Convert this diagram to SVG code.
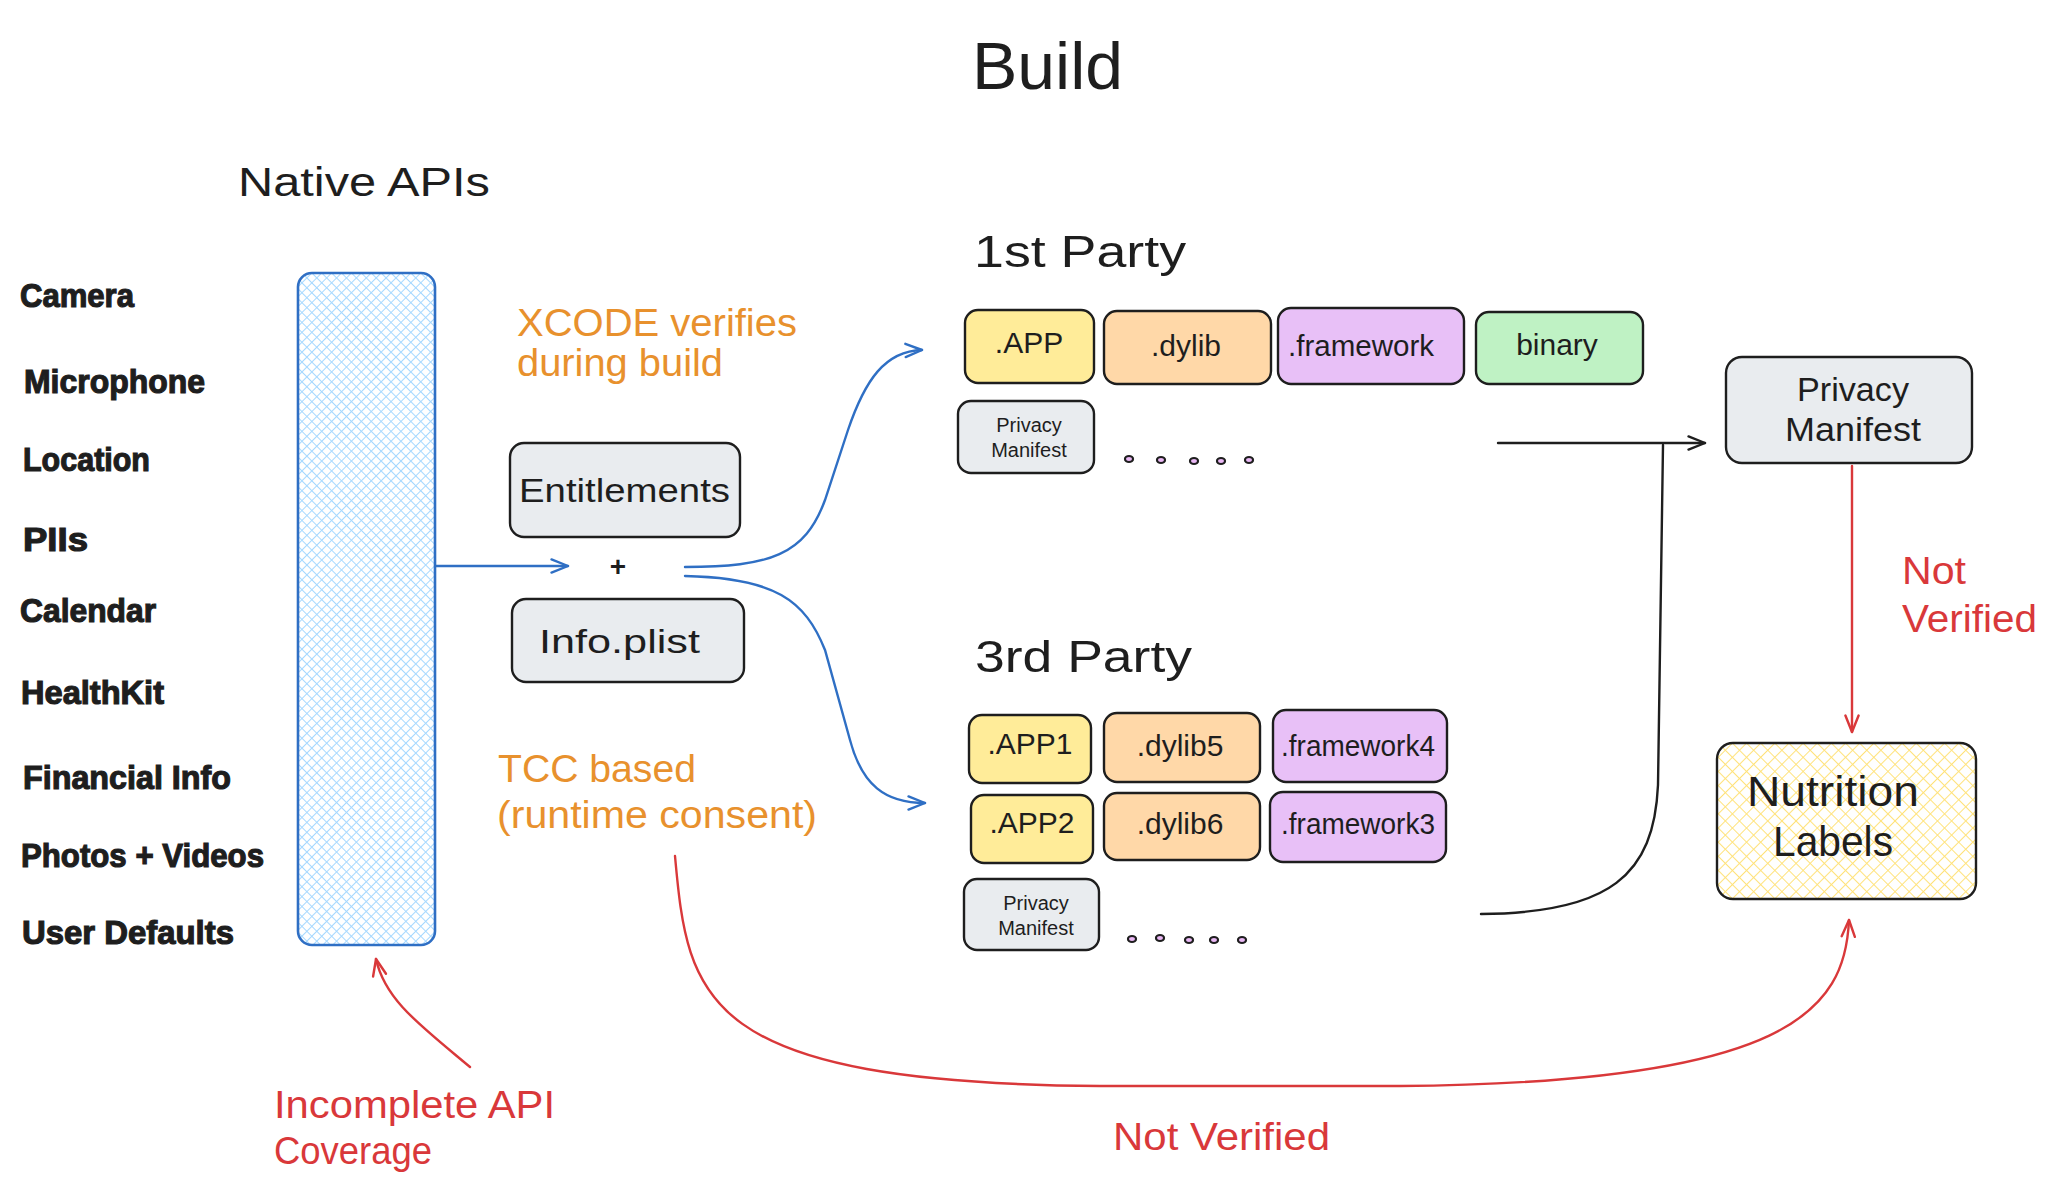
<svg xmlns="http://www.w3.org/2000/svg" width="2060" height="1192" viewBox="0 0 2060 1192">
<style>
.hw{font-family:"Liberation Sans","Noto Sans",sans-serif;fill:#1e1e1e}
.bold{font-family:"Liberation Sans","Noto Sans",sans-serif;font-weight:bold;fill:#1e1e1e;stroke:#1e1e1e;stroke-width:1.2;font-size:34px}
.or{fill:#e8912d}
.rd{fill:#d9383a}
.box{stroke:#1e1e1e;stroke-width:2.4}
.gray{fill:#e9ecef}
.yel{fill:#ffec99}
.ora{fill:#ffd8a8}
.pur{fill:#e8c0f7}
.grn{fill:#bff2c4}
.mid{text-anchor:middle}
.con{fill:none;stroke-width:2.4;stroke-linecap:round}
.dot{fill:#eab8f5;stroke:#1e1e1e;stroke-width:2.2}
</style>
<defs>
<pattern id="hb" width="7" height="7" patternUnits="userSpaceOnUse" patternTransform="rotate(45)">
<path d="M0,0 H7 M0,0 V7" stroke="#a5d8ff" stroke-width="2"/>
</pattern>
<pattern id="hy" width="10" height="10" patternUnits="userSpaceOnUse" patternTransform="rotate(45)">
<path d="M0,0 H10 M0,0 V10" stroke="#ffe27a" stroke-width="2"/>
</pattern>
<marker id="mb" viewBox="0 0 20 20" refX="18" refY="10" markerWidth="22" markerHeight="22" markerUnits="userSpaceOnUse" orient="auto">
<path d="M3,4 L18,10 L3,16" fill="none" stroke="#2f6fc4" stroke-width="2.2" stroke-linecap="round" stroke-linejoin="round"/>
</marker>
<marker id="mk" viewBox="0 0 20 20" refX="18" refY="10" markerWidth="22" markerHeight="22" markerUnits="userSpaceOnUse" orient="auto">
<path d="M3,4 L18,10 L3,16" fill="none" stroke="#1e1e1e" stroke-width="2.2" stroke-linecap="round" stroke-linejoin="round"/>
</marker>
<marker id="mr" viewBox="0 0 20 20" refX="18" refY="10" markerWidth="22" markerHeight="22" markerUnits="userSpaceOnUse" orient="auto">
<path d="M3,4 L18,10 L3,16" fill="none" stroke="#d9383a" stroke-width="2.2" stroke-linecap="round" stroke-linejoin="round"/>
</marker>
</defs>
<rect width="2060" height="1192" fill="#ffffff"/>

<g id="title">
<text class="hw" x="972" y="89" font-size="66" textLength="151" lengthAdjust="spacingAndGlyphs">Build</text>
</g>

<g id="native-apis-label">
<text class="hw" x="238" y="196" font-size="40" textLength="252" lengthAdjust="spacingAndGlyphs">Native APIs</text>
</g>

<g id="api-list">
<text class="bold" x="20" y="307" textLength="114" lengthAdjust="spacingAndGlyphs">Camera</text>
<text class="bold" x="24" y="393" textLength="181" lengthAdjust="spacingAndGlyphs">Microphone</text>
<text class="bold" x="23" y="471" textLength="127" lengthAdjust="spacingAndGlyphs">Location</text>
<text class="bold" x="23" y="551" textLength="65" lengthAdjust="spacingAndGlyphs">PIIs</text>
<text class="bold" x="20" y="622" textLength="136" lengthAdjust="spacingAndGlyphs">Calendar</text>
<text class="bold" x="21" y="704" textLength="143" lengthAdjust="spacingAndGlyphs">HealthKit</text>
<text class="bold" x="23" y="789" textLength="208" lengthAdjust="spacingAndGlyphs">Financial Info</text>
<text class="bold" x="21" y="867" textLength="243" lengthAdjust="spacingAndGlyphs">Photos + Videos</text>
<text class="bold" x="22" y="944" textLength="212" lengthAdjust="spacingAndGlyphs">User Defaults</text>
</g>

<g id="native-apis-box">
<rect x="298" y="273" width="137" height="672" rx="14" fill="#ffffff"/>
<rect x="298" y="273" width="137" height="672" rx="14" fill="url(#hb)" stroke="#2f6fc4" stroke-width="2.6"/>
</g>

<g id="xcode-note">
<text class="hw or" x="517" y="336" font-size="38" textLength="280" lengthAdjust="spacingAndGlyphs">XCODE verifies</text>
<text class="hw or" x="517" y="376" font-size="38" textLength="206" lengthAdjust="spacingAndGlyphs">during build</text>
</g>

<g id="entitlements">
<rect class="box gray" x="510" y="443" width="230" height="94" rx="14"/>
<text class="hw" x="519" y="502" font-size="33" textLength="211" lengthAdjust="spacingAndGlyphs">Entitlements</text>
</g>

<g id="plus">
<text class="hw mid" x="618" y="576" font-size="28" font-weight="bold">+</text>
</g>

<g id="info-plist">
<rect class="box gray" x="512" y="599" width="232" height="83" rx="14"/>
<text class="hw" x="539" y="653" font-size="33" textLength="161" lengthAdjust="spacingAndGlyphs">Info.plist</text>
</g>

<g id="tcc-note">
<text class="hw or" x="498" y="782" font-size="38" textLength="198" lengthAdjust="spacingAndGlyphs">TCC based</text>
<text class="hw or" x="497" y="828" font-size="38" textLength="320" lengthAdjust="spacingAndGlyphs">(runtime consent)</text>
</g>

<g id="first-party">
<text class="hw" x="974" y="267" font-size="44" textLength="212" lengthAdjust="spacingAndGlyphs">1st Party</text>
<g id="fp-app"><rect class="box yel" x="965" y="310" width="129" height="73" rx="13"/><text class="hw mid" x="1029" y="353" font-size="30">.APP</text></g>
<g id="fp-dylib"><rect class="box ora" x="1104" y="311" width="167" height="73" rx="13"/><text class="hw mid" x="1186" y="356" font-size="30">.dylib</text></g>
<g id="fp-framework"><rect class="box pur" x="1278" y="308" width="186" height="76" rx="13"/><text class="hw mid" x="1361" y="356" font-size="30" textLength="146" lengthAdjust="spacingAndGlyphs">.framework</text></g>
<g id="fp-binary"><rect class="box grn" x="1476" y="312" width="167" height="72" rx="13"/><text class="hw mid" x="1557" y="355" font-size="30">binary</text></g>
<g id="fp-privacy"><rect class="box gray" x="958" y="401" width="136" height="72" rx="13"/>
<text class="hw mid" x="1029" y="432" font-size="20">Privacy</text><text class="hw mid" x="1029" y="457" font-size="20">Manifest</text></g>
<g id="fp-dots">
<ellipse class="dot" cx="1129" cy="459" rx="4" ry="3"/>
<ellipse class="dot" cx="1161" cy="460" rx="4" ry="3"/>
<ellipse class="dot" cx="1194" cy="461" rx="4" ry="3"/>
<ellipse class="dot" cx="1221" cy="461" rx="4" ry="3"/>
<ellipse class="dot" cx="1249" cy="460" rx="4" ry="3"/>
</g>
</g>

<g id="third-party">
<text class="hw" x="975" y="672" font-size="44" textLength="217" lengthAdjust="spacingAndGlyphs">3rd Party</text>
<g id="tp-app1"><rect class="box yel" x="969" y="715" width="122" height="68" rx="13"/><text class="hw mid" x="1030" y="754" font-size="30">.APP1</text></g>
<g id="tp-dylib5"><rect class="box ora" x="1104" y="713" width="156" height="69" rx="13"/><text class="hw mid" x="1180" y="756" font-size="30">.dylib5</text></g>
<g id="tp-framework4"><rect class="box pur" x="1273" y="710" width="174" height="72" rx="13"/><text class="hw mid" x="1358" y="756" font-size="30" textLength="154" lengthAdjust="spacingAndGlyphs">.framework4</text></g>
<g id="tp-app2"><rect class="box yel" x="971" y="795" width="122" height="68" rx="13"/><text class="hw mid" x="1032" y="833" font-size="30">.APP2</text></g>
<g id="tp-dylib6"><rect class="box ora" x="1104" y="793" width="156" height="67" rx="13"/><text class="hw mid" x="1180" y="834" font-size="30">.dylib6</text></g>
<g id="tp-framework3"><rect class="box pur" x="1270" y="792" width="176" height="70" rx="13"/><text class="hw mid" x="1358" y="834" font-size="30" textLength="154" lengthAdjust="spacingAndGlyphs">.framework3</text></g>
<g id="tp-privacy"><rect class="box gray" x="964" y="879" width="135" height="71" rx="13"/>
<text class="hw mid" x="1036" y="910" font-size="20">Privacy</text><text class="hw mid" x="1036" y="935" font-size="20">Manifest</text></g>
<g id="tp-dots">
<ellipse class="dot" cx="1132" cy="939" rx="4" ry="3"/>
<ellipse class="dot" cx="1160" cy="938" rx="4" ry="3"/>
<ellipse class="dot" cx="1189" cy="940" rx="4" ry="3"/>
<ellipse class="dot" cx="1214" cy="940" rx="4" ry="3"/>
<ellipse class="dot" cx="1242" cy="940" rx="4" ry="3"/>
</g>
</g>

<g id="privacy-manifest">
<rect class="box gray" x="1726" y="357" width="246" height="106" rx="16"/>
<text class="hw mid" x="1853" y="401" font-size="34" textLength="112" lengthAdjust="spacingAndGlyphs">Privacy</text>
<text class="hw mid" x="1853" y="441" font-size="34" textLength="136" lengthAdjust="spacingAndGlyphs">Manifest</text>
</g>

<g id="nutrition-labels">
<rect x="1717" y="743" width="259" height="156" rx="16" fill="#ffffff"/>
<rect class="box" x="1717" y="743" width="259" height="156" rx="16" fill="url(#hy)"/>
<text class="hw mid" x="1833" y="806" font-size="42" textLength="172" lengthAdjust="spacingAndGlyphs">Nutrition</text>
<text class="hw mid" x="1833" y="856" font-size="42" textLength="120" lengthAdjust="spacingAndGlyphs">Labels</text>
</g>

<g id="not-verified-right">
<text class="hw rd" x="1902" y="584" font-size="38" textLength="64" lengthAdjust="spacingAndGlyphs">Not</text>
<text class="hw rd" x="1902" y="632" font-size="38" textLength="135" lengthAdjust="spacingAndGlyphs">Verified</text>
</g>

<g id="not-verified-bottom">
<text class="hw rd" x="1113" y="1150" font-size="38" textLength="217" lengthAdjust="spacingAndGlyphs">Not Verified</text>
</g>

<g id="incomplete-note">
<text class="hw rd" x="274" y="1118" font-size="38" textLength="281" lengthAdjust="spacingAndGlyphs">Incomplete API</text>
<text class="hw rd" x="274" y="1164" font-size="38" textLength="158" lengthAdjust="spacingAndGlyphs">Coverage</text>
</g>

<g id="connectors">
<path class="con" stroke="#2f6fc4" d="M436,566 L568,566" marker-end="url(#mb)"/>
<path class="con" stroke="#2f6fc4" d="M685,567 C770,567 805,555 825,500 L848,430 C865,380 885,351 922,350" marker-end="url(#mb)"/>
<path class="con" stroke="#2f6fc4" d="M685,576 C775,578 805,600 825,650 L850,740 C862,785 885,803 925,803" marker-end="url(#mb)"/>
<path class="con" stroke="#1e1e1e" d="M1498,443 L1705,443" marker-end="url(#mk)"/>
<path class="con" stroke="#1e1e1e" d="M1481,914 C1610,913 1654,875 1658,785 L1663,445"/>
<path class="con" stroke="#d9383a" d="M1852,466 L1852,732" marker-end="url(#mr)"/>
<path class="con" stroke="#d9383a" d="M675,856 C688,1000 700,1083 1100,1086 L1400,1086 C1790,1083 1845,1010 1849,920" marker-end="url(#mr)"/>
<path class="con" stroke="#d9383a" d="M470,1067 C420,1025 385,1000 376,959" marker-end="url(#mr)"/>
</g>
</svg>
